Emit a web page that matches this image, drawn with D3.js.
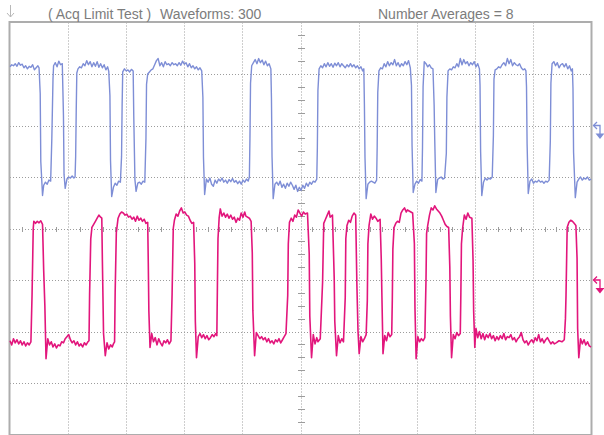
<!DOCTYPE html>
<html>
<head>
<meta charset="utf-8">
<script src="https://cdn.jsdelivr.net/npm/d3@7/dist/d3.min.js"></script>
<style>
  html, body { margin: 0; padding: 0; background: #ffffff; }
  svg { display: block; }
</style>
</head>
<body>
<svg id="scope" width="604" height="435"></svg>
<script>
// Header readouts
const acqLabel = "( Acq Limit Test )";
const waveformLabel = "Waveforms: 300";
const averagesLabel = "Number Averages = 8";

// Graticule extent, in divisions
const timeDivisions = [0, 10];
const voltDivisions = [-4, 4];
const triggerPosition = 0;
const channelReferences = [
  { channel: 1, level: 2 },
  { channel: 2, level: -1 }
];

// Averaged acquisitions: [time (div), level (div)]
const ch1Trace = [
  [0.00,3.14],[0.03,3.18],[0.06,3.16],[0.09,3.20],[0.12,3.15],[0.15,3.22],[0.18,3.17],[0.21,3.19],[0.24,3.12],[0.27,3.16],[0.30,3.10],[0.33,3.15],[0.36,3.13],[0.39,3.18],[0.42,3.08],[0.45,3.12],[0.48,3.16],[0.50,3.12],
  [0.52,2.62],[0.53,1.30],[0.56,0.64],[0.58,0.84],[0.61,0.90],[0.64,0.86],[0.67,0.94],[0.70,0.92],
  [0.72,1.75],[0.74,2.90],[0.75,3.16],[0.78,3.22],[0.81,3.14],[0.84,3.25],[0.87,3.18],[0.90,3.20],
  [0.92,2.20],[0.93,1.05],[0.95,0.78],[0.98,0.96],[1.01,1.00],[1.04,0.98],[1.07,1.02],[1.10,0.98],[1.12,1.00],
  [1.13,1.40],[1.14,2.30],[1.15,3.02],[1.17,3.10],[1.20,3.14],[1.23,3.12],[1.26,3.20],[1.29,3.16],[1.32,3.26],[1.35,3.18],[1.38,3.24],[1.41,3.14],[1.44,3.22],[1.47,3.15],[1.50,3.24],[1.53,3.13],[1.56,3.20],[1.59,3.12],[1.62,3.18],[1.65,3.08],[1.68,3.14],[1.70,3.05],
  [1.72,2.58],[1.73,1.32],[1.75,0.62],[1.78,0.80],[1.81,0.88],[1.84,0.84],[1.87,0.92],[1.90,0.90],
  [1.92,1.40],[1.93,2.40],[1.94,3.04],[1.97,3.10],[2.00,3.06],[2.03,3.08],[2.06,3.04],[2.09,3.09],[2.12,3.06],
  [2.13,2.20],[2.15,0.95],[2.17,0.72],[2.20,0.88],[2.23,0.90],[2.26,0.86],[2.29,0.92],[2.32,0.90],
  [2.34,1.75],[2.35,2.80],[2.37,3.00],[2.40,3.04],[2.43,3.08],[2.46,3.10],[2.49,3.18],[2.52,3.26],[2.55,3.30],[2.58,3.16],[2.61,3.22],[2.64,3.14],[2.67,3.24],[2.70,3.18],[2.73,3.20],[2.76,3.16],[2.79,3.22],[2.82,3.18],[2.85,3.20],[2.88,3.16],[2.91,3.22],[2.94,3.17],[2.97,3.25],[3.00,3.19],[3.03,3.22],[3.06,3.14],[3.09,3.20],[3.12,3.12],[3.15,3.16],[3.18,3.10],[3.21,3.14],[3.24,3.08],[3.27,3.12],[3.30,3.06],
  [3.32,2.55],[3.33,1.38],[3.35,0.66],[3.38,0.96],[3.41,0.90],[3.44,0.98],[3.47,0.86],[3.50,0.82],[3.53,0.94],[3.56,0.88],[3.59,0.96],[3.62,0.92],[3.65,0.98],[3.68,0.90],[3.71,0.94],[3.74,0.88],[3.77,0.95],[3.80,0.91],[3.83,0.97],[3.86,0.90],[3.89,0.93],[3.92,0.87],[3.95,0.92],[3.98,0.86],[4.01,0.94],[4.04,0.90],[4.07,0.96],[4.10,0.92],
  [4.12,1.00],[4.13,1.75],[4.14,2.82],[4.16,3.16],[4.19,3.22],[4.22,3.28],[4.25,3.20],[4.28,3.30],[4.31,3.22],[4.34,3.27],[4.37,3.18],[4.40,3.25],[4.43,3.16],[4.46,3.20],[4.49,3.10],
  [4.50,2.53],[4.51,1.40],[4.53,0.58],[4.56,0.86],[4.59,0.90],[4.62,0.84],[4.65,0.92],[4.68,0.80],[4.71,0.86],[4.74,0.78],[4.77,0.88],[4.80,0.82],[4.83,0.90],[4.86,0.84],[4.89,0.76],[4.92,0.84],[4.95,0.72],[4.98,0.80],[5.01,0.74],[5.04,0.84],[5.07,0.78],[5.10,0.88],[5.13,0.82],[5.16,0.90],[5.19,0.86],[5.22,0.92],[5.25,0.90],[5.28,0.96],
  [5.29,1.57],[5.30,2.68],[5.32,3.10],[5.35,3.16],[5.38,3.12],[5.41,3.20],[5.44,3.14],[5.47,3.22],[5.50,3.15],[5.53,3.20],[5.56,3.13],[5.59,3.21],[5.62,3.16],[5.65,3.22],[5.68,3.14],[5.71,3.20],[5.74,3.16],[5.77,3.12],[5.80,3.18],[5.83,3.14],[5.86,3.20],[5.89,3.14],[5.92,3.18],[5.95,3.12],[5.98,3.16],[6.01,3.10],[6.04,3.14],[6.07,3.06],[6.09,3.10],
  [6.10,2.40],[6.11,1.38],[6.13,0.58],[6.16,0.86],[6.19,0.90],[6.22,0.92],[6.25,0.90],[6.28,0.88],[6.31,0.94],
  [6.32,1.60],[6.33,2.64],[6.35,3.06],[6.38,3.12],[6.41,3.10],[6.44,3.20],[6.47,3.14],[6.50,3.24],[6.53,3.16],[6.56,3.22],[6.59,3.18],[6.62,3.28],[6.65,3.16],[6.68,3.22],[6.71,3.14],[6.74,3.20],[6.77,3.16],[6.80,3.24],[6.83,3.18],[6.86,3.26],[6.89,3.12],
  [6.91,2.78],[6.92,1.61],[6.94,0.70],[6.97,0.86],[7.00,0.92],[7.03,0.88],[7.06,0.95],[7.09,0.92],
  [7.10,1.58],[7.11,2.75],[7.13,3.24],[7.16,3.20],[7.19,3.14],[7.22,3.18],[7.25,3.12],[7.28,3.10],
  [7.30,2.40],[7.31,1.75],[7.33,0.70],[7.36,0.95],[7.39,0.98],[7.42,1.00],[7.45,0.96],[7.48,0.98],
  [7.51,1.46],[7.52,2.55],[7.54,3.06],[7.57,3.10],[7.60,3.08],[7.63,3.14],[7.66,3.12],[7.69,3.20],[7.72,3.14],[7.75,3.30],[7.78,3.18],[7.81,3.28],[7.84,3.20],[7.87,3.24],[7.90,3.16],[7.93,3.22],[7.96,3.18],[7.99,3.24],[8.02,3.14],[8.05,3.20],[8.08,3.10],
  [8.09,2.78],[8.10,1.50],[8.12,0.64],[8.15,0.90],[8.18,0.98],[8.21,0.94],[8.24,0.98],[8.27,0.96],[8.30,1.00],
  [8.32,1.80],[8.33,2.90],[8.35,3.08],[8.38,3.10],[8.41,3.14],[8.44,3.12],[8.47,3.18],[8.50,3.22],[8.53,3.16],[8.56,3.30],[8.59,3.20],[8.62,3.28],[8.65,3.16],[8.68,3.22],[8.71,3.18],[8.74,3.16],[8.77,3.20],[8.80,3.12],[8.83,3.08],[8.86,3.10],[8.88,3.06],
  [8.89,2.75],[8.90,1.65],[8.92,0.68],[8.95,0.92],[8.98,0.96],[9.01,0.88],[9.04,0.92],[9.07,0.90],[9.10,0.94],[9.13,0.90],[9.16,0.92],[9.19,0.88],[9.22,0.92],[9.25,0.90],[9.28,0.94],
  [9.30,1.71],[9.31,2.82],[9.33,3.20],[9.36,3.24],[9.39,3.16],[9.42,3.22],[9.45,3.12],[9.48,3.18],[9.51,3.20],[9.54,3.14],[9.57,3.20],[9.60,3.10],[9.63,3.16],[9.66,3.06],[9.68,3.10],
  [9.69,2.72],[9.70,1.48],[9.73,0.60],[9.76,0.90],[9.79,0.96],[9.82,1.00],[9.85,0.94],[9.88,0.98],[9.91,0.96],[9.94,1.00],[9.97,0.94],[10.00,0.96]
];

const ch2Trace = [
  [0.00,-2.18],[0.03,-2.26],[0.06,-2.14],[0.09,-2.22],[0.12,-2.16],[0.15,-2.24],[0.18,-2.18],[0.21,-2.26],[0.24,-2.20],[0.27,-2.28],[0.30,-2.22],[0.33,-2.26],[0.36,-2.20],
  [0.38,-1.27],[0.40,0.00],[0.41,0.14],[0.44,0.10],[0.47,0.14],[0.50,0.11],[0.53,0.15],[0.56,0.08],
  [0.58,-0.82],[0.60,-1.50],[0.62,-2.53],[0.65,-2.14],[0.68,-2.26],[0.71,-2.20],[0.74,-2.30],[0.77,-2.24],[0.80,-2.32],[0.83,-2.26],[0.86,-2.28],[0.89,-2.20],[0.92,-2.22],[0.95,-2.14],[0.98,-2.10],[1.01,-2.06],[1.04,-2.16],[1.07,-2.22],[1.10,-2.18],[1.13,-2.26],[1.16,-2.20],[1.19,-2.28],[1.22,-2.24],[1.25,-2.30],[1.28,-2.22],[1.31,-2.26],[1.34,-2.20],[1.36,-2.18],
  [1.37,-1.27],[1.39,-0.20],[1.41,0.02],[1.44,0.08],[1.47,0.14],[1.50,0.20],[1.53,0.26],[1.56,0.22],[1.58,0.20],
  [1.59,-0.62],[1.61,-2.04],[1.64,-2.47],[1.67,-2.22],[1.70,-2.34],[1.73,-2.26],[1.76,-2.30],[1.78,-2.24],[1.80,-2.20],
  [1.81,-1.24],[1.83,-0.08],[1.86,0.20],[1.89,0.28],[1.92,0.32],[1.95,0.30],[1.98,0.26],[2.01,0.28],[2.04,0.22],[2.07,0.24],[2.10,0.18],[2.13,0.22],[2.16,0.14],[2.19,0.24],[2.22,0.16],[2.25,0.20],[2.28,0.14],[2.31,0.18],[2.34,0.10],[2.37,0.12],
  [2.38,-0.66],[2.39,-1.60],[2.41,-2.31],[2.44,-2.04],[2.47,-2.20],[2.50,-2.12],[2.53,-2.26],[2.56,-2.14],[2.59,-2.22],[2.62,-2.28],[2.65,-2.18],[2.68,-2.22],[2.71,-2.16],[2.74,-2.24],[2.77,-2.18],
  [2.79,-1.27],[2.81,0.00],[2.83,0.16],[2.86,0.28],[2.89,0.24],[2.92,0.34],[2.95,0.40],[2.98,0.30],[3.01,0.32],[3.04,0.26],[3.07,0.24],[3.10,0.16],[3.13,0.10],[3.16,0.12],
  [3.18,-0.68],[3.19,-1.80],[3.21,-2.51],[3.24,-2.10],[3.27,-2.04],[3.30,-2.12],[3.33,-2.06],[3.36,-2.14],[3.39,-2.08],[3.42,-2.16],[3.45,-2.12],[3.48,-2.06],[3.51,-2.10],[3.54,-2.04],[3.56,-2.08],
  [3.57,-1.11],[3.58,-0.20],[3.60,0.21],[3.62,0.38],[3.65,0.24],[3.68,0.30],[3.71,0.22],[3.74,0.28],[3.77,0.20],[3.80,0.26],[3.83,0.18],[3.86,0.22],[3.89,0.12],[3.92,0.20],[3.95,0.16],[3.98,0.30],[4.01,0.22],[4.04,0.32],[4.06,0.24],[4.12,0.20],[4.15,0.14],
  [4.17,-0.47],[4.18,-1.59],[4.21,-2.47],[4.24,-2.02],[4.27,-2.08],[4.30,-2.14],[4.33,-2.10],[4.36,-2.16],[4.39,-2.12],[4.42,-2.20],[4.45,-2.14],[4.48,-2.22],[4.51,-2.18],[4.54,-2.24],[4.57,-2.16],[4.60,-2.20],[4.63,-2.14],[4.66,-2.22],[4.69,-2.16],[4.72,-2.10],[4.75,-2.04],
  [4.78,-1.30],[4.79,-0.30],[4.81,0.12],[4.84,0.20],[4.87,0.14],[4.90,0.26],[4.93,0.22],[4.96,0.36],[4.99,0.30],[5.02,0.24],[5.05,0.32],[5.08,0.28],[5.12,0.30],
  [5.15,-0.49],[5.16,-1.70],[5.19,-2.51],[5.22,-2.06],[5.25,-2.24],[5.28,-2.12],[5.30,-2.20],[5.34,-2.14],
  [5.38,-1.05],[5.40,0.10],[5.43,0.18],[5.46,0.26],[5.49,0.34],[5.51,0.22],[5.55,0.26],
  [5.58,-0.95],[5.59,-1.80],[5.62,-2.47],[5.65,-2.08],[5.68,-2.22],[5.71,-2.14],[5.74,-2.20],
  [5.77,-1.34],[5.78,-0.20],[5.80,0.06],[5.83,0.16],[5.86,0.12],[5.89,0.24],[5.92,0.30],[5.95,0.26],
  [5.96,-0.40],[5.97,-1.07],[5.99,-2.00],[6.01,-2.43],[6.04,-2.10],[6.07,-2.20],[6.10,-2.14],[6.13,-2.06],
  [6.15,-1.40],[6.16,-0.30],[6.18,0.06],[6.21,0.28],[6.24,0.18],[6.27,0.24],[6.30,0.20],[6.33,0.14],[6.37,0.18],
  [6.39,-0.60],[6.40,-1.24],[6.42,-2.43],[6.45,-2.08],[6.48,-2.18],[6.51,-2.02],[6.54,-2.10],[6.57,-2.06],
  [6.58,-1.40],[6.59,-0.40],[6.61,0.02],[6.64,0.10],[6.67,0.14],[6.70,0.12],[6.73,0.30],[6.76,0.36],[6.79,0.40],[6.82,0.32],[6.84,0.36],[6.93,0.30],
  [6.96,-0.29],[6.97,-1.53],[6.99,-2.53],[7.02,-2.10],[7.05,-2.20],[7.08,-2.14],[7.11,-2.18],[7.14,-2.12],
  [7.16,-1.01],[7.17,-0.10],[7.19,0.06],[7.22,0.26],[7.25,0.40],[7.28,0.36],[7.31,0.44],[7.34,0.38],[7.37,0.34],[7.40,0.30],[7.43,0.24],[7.46,0.16],[7.49,0.08],[7.52,0.04],[7.55,0.02],
  [7.57,-0.75],[7.58,-1.70],[7.60,-2.51],[7.63,-2.06],[7.66,-2.14],[7.69,-2.02],[7.72,-2.08],[7.75,-2.04],
  [7.76,-1.27],[7.77,-0.30],[7.79,0.00],[7.82,0.26],[7.85,0.18],[7.88,0.30],[7.91,0.22],[7.95,0.20],
  [7.97,-0.62],[7.98,-1.59],[8.00,-2.31],[8.02,-1.94],[8.05,-2.12],[8.08,-2.00],[8.11,-2.14],[8.14,-2.04],[8.17,-2.16],[8.20,-2.06],[8.23,-2.12],[8.26,-2.04],[8.29,-2.14],[8.32,-2.08],[8.35,-2.18],[8.38,-2.10],[8.41,-2.16],[8.44,-2.08],[8.47,-2.14],[8.50,-2.04],[8.53,-2.16],[8.56,-2.10],[8.59,-2.12],[8.62,-2.06],[8.65,-2.16],[8.68,-2.12],[8.71,-2.20],[8.74,-2.14],[8.77,-2.10],[8.80,-2.02],[8.83,-2.16],[8.86,-2.22],[8.89,-2.18],[8.92,-2.26],[8.95,-2.20],[8.98,-2.16],[9.01,-2.22],[9.04,-2.12],[9.07,-2.18],[9.10,-2.06],[9.13,-2.20],[9.16,-2.14],[9.19,-2.22],[9.22,-2.16],[9.25,-2.12],[9.28,-2.18],[9.31,-2.24],[9.34,-2.20],[9.37,-2.24],[9.40,-2.22],[9.45,-2.18],[9.50,-2.20],[9.54,-2.16],
  [9.56,-1.75],[9.57,-1.30],[9.59,0.02],[9.62,0.12],[9.65,0.16],[9.68,0.14],[9.71,0.10],[9.74,0.06],
  [9.76,-0.58],[9.77,-1.94],[9.79,-2.51],[9.82,-2.14],[9.85,-2.24],[9.88,-2.16],[9.91,-2.26],[9.94,-2.20],[9.97,-2.28],[10.00,-2.30]
];

const channelColors = { 1: "#7e8ed6", 2: "#e2167c" };

const svg = d3.select("#scope");
const x = d3.scaleLinear().domain(timeDivisions).range([10, 591]);
const y = d3.scaleLinear().domain(voltDivisions).range([434.5, 22.5]);
const crisp = v => Math.round(v) + 0.5;

const gridColor = "#9c9c9c";
const grid = svg.append("g").attr("class", "graticule");

// Dotted division lines
grid.selectAll("line.vdiv")
  .data(d3.range(timeDivisions[0] + 1, timeDivisions[1]))
  .join("line").attr("class", "vdiv")
  .attr("x1", d => crisp(x(d))).attr("x2", d => crisp(x(d)))
  .attr("y1", y(voltDivisions[1])).attr("y2", y(voltDivisions[0]))
  .attr("stroke", gridColor).attr("stroke-width", 1).attr("stroke-dasharray", "1,2");

grid.selectAll("line.hdiv")
  .data(d3.range(voltDivisions[0] + 1, voltDivisions[1]))
  .join("line").attr("class", "hdiv")
  .attr("y1", d => crisp(y(d))).attr("y2", d => crisp(y(d)))
  .attr("x1", x(timeDivisions[0])).attr("x2", x(timeDivisions[1]))
  .attr("stroke", gridColor).attr("stroke-width", 1).attr("stroke-dasharray", "1,2");

// Minor ticks along the centre axes
const cx = crisp(x(5)), cy = crisp(y(0));
grid.selectAll("line.xtick")
  .data(d3.range(1, 50).map(i => i / 5).filter(d => d % 1 !== 0))
  .join("line").attr("class", "xtick")
  .attr("x1", d => crisp(x(d))).attr("x2", d => crisp(x(d)))
  .attr("y1", cy - 2.5).attr("y2", cy + 2.5)
  .attr("stroke", gridColor).attr("stroke-width", 1);

grid.selectAll("line.ytick")
  .data(d3.range(-15, 16).map(i => i / 4).filter(d => d % 1 !== 0))
  .join("line").attr("class", "ytick")
  .attr("y1", d => crisp(y(d))).attr("y2", d => crisp(y(d)))
  .attr("x1", cx - 3.5).attr("x2", cx + 3.5)
  .attr("stroke", gridColor).attr("stroke-width", 1);

// Graticule frame
svg.append("rect")
  .attr("x", x(timeDivisions[0]) - 0.5)
  .attr("y", y(voltDivisions[1]) - 0.5)
  .attr("width", x(timeDivisions[1]) - x(timeDivisions[0]) + 1)
  .attr("height", y(voltDivisions[0]) - y(voltDivisions[1]) + 1)
  .attr("fill", "none").attr("stroke", "#adadad").attr("stroke-width", 2);

// Waveforms
const line = d3.line().x(d => x(d[0])).y(d => y(d[1]));
svg.append("path").datum(ch1Trace)
  .attr("d", line).attr("fill", "none")
  .attr("stroke", channelColors[1]).attr("stroke-width", 1.4)
  .attr("stroke-linejoin", "round");
svg.append("path").datum(ch2Trace)
  .attr("d", line).attr("fill", "none")
  .attr("stroke", channelColors[2]).attr("stroke-width", 1.6)
  .attr("stroke-linejoin", "round");

// Channel ground-reference markers on the right edge
const markers = svg.append("g").attr("class", "ref-markers");
channelReferences.forEach(ref => {
  const col = channelColors[ref.channel];
  const my = y(ref.level);
  const mx = x(timeDivisions[1]);
  const g = markers.append("g");
  g.append("path")
    .attr("d", `M${mx + 2.5},${my} L${mx + 9},${my} L${mx + 9},${my + 8.5}`)
    .attr("fill", "none").attr("stroke", col).attr("stroke-width", 1.3);
  g.append("path")
    .attr("d", `M${mx + 6},${my - 3.5} L${mx + 2.5},${my} L${mx + 6},${my + 3.5}`)
    .attr("fill", "none").attr("stroke", col).attr("stroke-width", 1.3);
  g.append("path")
    .attr("d", `M${mx + 4.5},${my + 8} L${mx + 13.5},${my + 8} L${mx + 9},${my + 13.5} Z`)
    .attr("fill", col);
});

// Trigger position marker above the graticule
const tx = crisp(x(triggerPosition));
svg.append("path")
  .attr("d", `M${tx},5 L${tx},17 M${tx - 3.5},13 L${tx},17 L${tx + 3.5},13`)
  .attr("fill", "none").attr("stroke", "#b8b8b8").attr("stroke-width", 1);

// Header readouts
const header = svg.append("g")
  .attr("font-family", "'Liberation Sans', Arial, sans-serif")
  .attr("font-size", 14).attr("fill", "#7c7c7c");
header.append("text").attr("x", 48).attr("y", 18.5).text(acqLabel);
header.append("text").attr("x", 160).attr("y", 18.5).text(waveformLabel);
header.append("text").attr("x", 378).attr("y", 18.5).text(averagesLabel);
</script>
</body>
</html>
